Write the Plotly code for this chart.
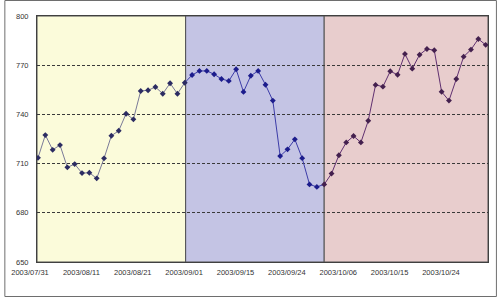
import plotly.graph_objects as go

# ---- data ----
values = [713.5, 727.4, 718.4, 721.3, 707.7, 709.7, 704.2, 704.4, 701.0, 713.2,
          727.0, 730.0, 740.4, 737.0, 754.3, 754.7, 756.7, 752.6, 759.0, 752.6,
          759.3, 764.0, 766.5, 766.5, 764.5, 761.6, 760.4, 767.5, 753.7, 763.6,
          766.5, 758.1, 748.4, 714.6, 718.7, 724.8, 713.3, 697.3, 695.8, 697.3,
          703.9, 715.1, 722.9, 726.8, 722.9, 736.1, 758.0, 756.9, 766.3, 764.2,
          776.9, 767.9, 776.4, 779.9, 779.1, 753.8, 748.4, 761.6, 775.2, 779.5,
          786.0, 782.4]
categories = list(range(len(values)))  # trading-day index
tick_labels = ["2003/07/31", "2003/08/11", "2003/08/21", "2003/09/01", "2003/09/15",
               "2003/09/24", "2003/10/06", "2003/10/15", "2003/10/24"]
tick_index = [0, 7, 14, 21, 28, 35, 42, 49, 56]
y_ticks = [650, 680, 710, 740, 770, 800]

# month shading periods (in category-index units)
period_start = [-0.135, 20.12, 39.0]
period_end = [20.12, 39.0, 61.32]
period_first_point = [0, 20, 39]
period_last_point = [20, 39, 61]
period_fill = ["#FBFBDA", "#C4C4E4", "#E8CDCD"]
period_line = ["#7A7A98", "#3C3CA8", "#603070"]
period_marker = ["#2C2C62", "#1C1C8C", "#44204E"]

fig = go.Figure()

for k in range(3):
    lo, hi = period_first_point[k], period_last_point[k]
    fig.add_trace(go.Scatter(x=categories[lo:hi + 1], y=values[lo:hi + 1], mode="lines",
                             line=dict(color=period_line[k], width=1),
                             hoverinfo="skip", showlegend=False))

mcolors = []
for i in categories:
    k = 0 if i < period_start[1] else (1 if i < period_start[2] else 2)
    mcolors.append(period_marker[k])
fig.add_trace(go.Scatter(x=categories, y=values, mode="markers",
                         marker=dict(symbol="diamond", size=4.5, color=mcolors,
                                     line=dict(width=0)),
                         showlegend=False))

shapes = []
for k in range(3):
    shapes.append(dict(type="rect", xref="x", yref="y", layer="below",
                       x0=period_start[k], x1=period_end[k], y0=650, y1=800,
                       fillcolor=period_fill[k], line=dict(color="#505050", width=1)))
# chart-area frame
L, R, T, B = 33, 11, 16, 37
W, H = 500 - L - R, 299 - T - B
def px(x): return (x - L) / W
def py(y): return (299 - B - y) / H
shapes.append(dict(type="rect", xref="paper", yref="paper", layer="above",
                   x0=px(0.5), x1=px(497.5), y0=py(296.5), y1=py(0.5),
                   line=dict(color="#6E6E6E", width=1), fillcolor="rgba(0,0,0,0)"))

font = dict(family="Liberation Sans, Arial, sans-serif", size=7.5, color="#333333")
fig.update_layout(
    width=500, height=299,
    margin=dict(l=L, r=R, t=T, b=B),
    paper_bgcolor="white", plot_bgcolor="white",
    shapes=shapes,
    showlegend=False,
    xaxis=dict(range=[period_start[0], period_end[2]], tickvals=tick_index,
               ticktext=tick_labels, tickfont=font, showgrid=False, zeroline=False,
               showline=True, linecolor="#404040", linewidth=1, mirror=True,
               ticks="", ticklabelshift=-8, ticklabelstandoff=3),
    yaxis=dict(range=[650, 800], tickvals=y_ticks, tickfont=font,
               showgrid=True, gridcolor="#3A3A3A", gridwidth=1, griddash="3px,2px",
               zeroline=False, showline=True, linecolor="#404040", linewidth=1,
               mirror=True, ticks="", ticklabelstandoff=6),
)
fig.write_html("out.html")
